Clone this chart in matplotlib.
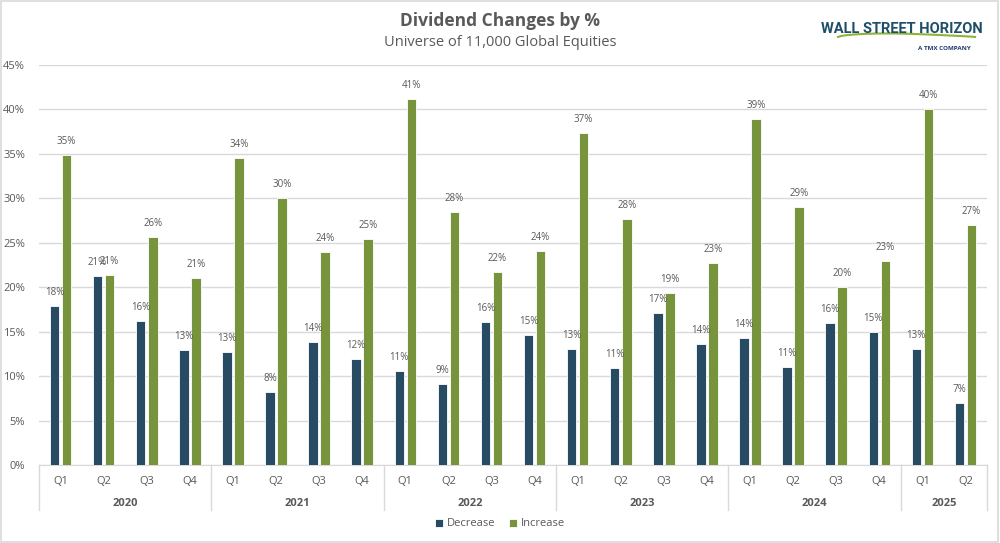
import matplotlib
matplotlib.use("Agg")
import matplotlib.pyplot as plt
import matplotlib.transforms as mtransforms
from matplotlib.patches import Rectangle
import numpy as np

years = ["2020", "2021", "2022", "2023", "2024", "2025"]
quarters = ["Q1", "Q2", "Q3", "Q4"] * 5 + ["Q1", "Q2"]
decrease = [17.9, 21.3, 16.2, 12.9,
            12.7, 8.2, 13.8, 11.9,
            10.6, 9.1, 16.1, 14.6,
            13.0, 10.9, 17.1, 13.6,
            14.3, 11.0, 16.0, 15.0,
            13.0, 7.0]
increase = [34.9, 21.4, 25.7, 21.0,
            34.5, 30.0, 24.0, 25.4,
            41.2, 28.5, 21.7, 24.1,
            37.4, 27.7, 19.3, 22.7,
            38.9, 29.0, 20.0, 23.0,
            40.0, 27.0]
year_sizes = [4, 4, 4, 4, 4, 2]

dec_color = "#264B63"
inc_color = "#77933C"
txt = "#595959"

plt.rcParams['font.family'] = ['Open Sans', 'DejaVu Sans']

fig = plt.figure(figsize=(10, 5.43), dpi=100)
ax = fig.add_axes([39 / 1000, 1 - 465 / 543, 948 / 1000, 400 / 543])

x = np.arange(len(quarters))
w = 0.22
off = 0.14
b1 = ax.bar(x - off, decrease, w, color=dec_color, edgecolor="white", linewidth=0.6, label="Decrease", zorder=3)
b2 = ax.bar(x + off, increase, w, color=inc_color, edgecolor="white", linewidth=0.6, label="Increase", zorder=3)

for bars, vals in ((b1, decrease), (b2, increase)):
    for r, v in zip(bars, vals):
        ax.text(r.get_x() + r.get_width() / 2, v + 0.9, "%d%%" % round(v),
                ha="center", va="bottom", fontsize=7, color=txt, zorder=4)

ax.set_xlim(-0.5, len(quarters) - 0.5)
ax.set_ylim(0, 45)
ax.set_yticks(range(0, 46, 5))
ax.set_yticklabels(["%d%%" % v for v in range(0, 46, 5)], fontsize=8, color=txt)
ax.yaxis.grid(True, color="#D9D9D9", linewidth=1)
ax.set_axisbelow(True)
ax.tick_params(axis="y", length=0, pad=10)
ax.tick_params(axis="x", length=0, pad=8)
ax.set_xticks(x)
ax.set_xticklabels(quarters, fontsize=8, color=txt)
for s in ("left", "right", "top"):
    ax.spines[s].set_visible(False)
ax.spines["bottom"].set_color("#D9D9D9")

# year groups below the quarter labels
trans = mtransforms.blended_transform_factory(ax.transData, ax.transAxes)
start = 0
bounds = [-0.5]
for y, n in zip(years, year_sizes):
    center = start + (n - 1) / 2
    ax.text(center, -0.095, y, transform=trans, ha="center", va="center",
            fontsize=8, color=txt, fontweight="bold")
    start += n
    bounds.append(start - 0.5)
for b in bounds:
    ax.plot([b, b], [0, -0.113], transform=trans, color="#D9D9D9",
            linewidth=1, clip_on=False)

fig.legend(handles=[b1, b2], labels=["Decrease", "Increase"], loc="center",
           bbox_to_anchor=(0.5, 1 - 524 / 543), ncol=2, frameon=False,
           fontsize=8, labelcolor=txt, handlelength=0.7, handleheight=0.7,
           columnspacing=1.2, handletextpad=0.4)

fig.text(0.5, 1 - 21 / 543, "Dividend Changes by %", ha="center", va="center",
         fontsize=12.5, fontweight="bold", color=txt)
fig.text(0.5, 1 - 43 / 543, "Universe of 11,000 Global Equities", ha="center",
         va="center", fontsize=10.5, color=txt)

# logo
fig.text(0.902, 1 - 29 / 543, "WALL STREET HORIZON", ha="center", va="center",
         fontsize=10.5, fontweight="bold", color="#1F4E6B",
         family=["Roboto", "DejaVu Sans"])
sx = np.linspace(0.838, 0.975, 50)
sy = 1 - (37 - 5 * np.sin(np.linspace(0, np.pi, 50)) ** 0.6 * np.linspace(1, 0.3, 50)) / 543
fig.add_artist(plt.Line2D(sx, sy, color="#8DB33A", linewidth=1.5))
fig.text(0.944, 1 - 49 / 543, "A TMX COMPANY", ha="center", va="center",
         fontsize=4.5, fontweight="bold", color="#1F3A6B")

fig.add_artist(Rectangle((0.001, 0.001), 0.997, 0.997, transform=fig.transFigure,
                         fill=False, edgecolor="#D9D9D9", linewidth=1.2))

fig.savefig("out.png", dpi=100)
